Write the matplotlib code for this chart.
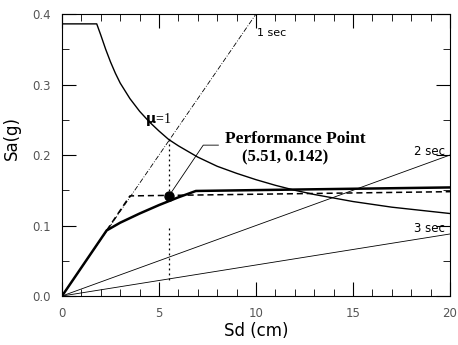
import matplotlib.pyplot as plt
from matplotlib.ticker import MultipleLocator

# demand spectrum (ADRS, 5% damping)
demand_sd = [0, 1.79, 2.0, 2.25, 2.5, 2.75, 3.0, 3.5, 4.0, 4.5, 5.0, 5.5, 6.0, 7.0, 8.0, 9.0,
             10.0, 11.0, 12.0, 13.0, 14.0, 15.0, 16.0, 17.0, 18.0, 19.0, 20.0]
demand_sa = [0.386, 0.386, 0.370, 0.350, 0.332, 0.316, 0.302, 0.280, 0.262, 0.247, 0.234, 0.222,
             0.213, 0.197, 0.184, 0.174, 0.165, 0.157, 0.150, 0.144, 0.139, 0.134, 0.130, 0.126,
             0.123, 0.120, 0.117]

# capacity spectrum
capacity_sd = [0, 2.3, 3.0, 4.0, 5.0, 6.0, 6.9, 12.0, 20.0]
capacity_sa = [0, 0.093, 0.104, 0.117, 0.129, 0.140, 0.149, 0.151, 0.154]

# reduced demand spectrum
reduced_sd = [2.3, 3.5, 20.0]
reduced_sa = [0.093, 0.142, 0.148]

# constant period lines: end point of each line
period_labels = ['1 sec', '2 sec', '3 sec']
period_end_sd = [10.0, 20.0, 20.0]
period_end_sa = [0.40, 0.20, 0.088]

perf_sd, perf_sa = 5.51, 0.142
mu1_sa = 0.222

fig = plt.figure(figsize=(4.58, 3.45), dpi=100)
ax = fig.add_axes([0.1354, 0.142, 0.8472, 0.8174])

ax.plot(demand_sd, demand_sa, color='black', lw=1.0)
ax.plot(capacity_sd, capacity_sa, color='black', lw=1.8)
ax.plot(reduced_sd, reduced_sa, color='black', lw=1.1, ls=(0, (4, 2.5)))

for i, lab in enumerate(period_labels):
    ls = (0, (6, 2, 1, 2)) if i == 0 else '-'
    ax.plot([0, period_end_sd[i]], [0, period_end_sa[i]], color='black', lw=0.6, ls=ls)

# dotted drop lines at performance point
ax.plot([perf_sd, perf_sd], [mu1_sa, perf_sa], color='black', lw=0.9, ls=(0, (1.5, 2.5)))
ax.plot([perf_sd, perf_sd], [0.096, 0.023], color='black', lw=0.9, ls=(0, (1.5, 2.5)))

ax.plot(perf_sd, perf_sa, 'o', color='black', ms=6.5)

# leader line to label
ax.plot([perf_sd + 0.1, 7.28, 8.06], [perf_sa + 0.004, 0.214, 0.214], color='black', lw=0.6)
ax.text(12.0, 0.222, 'Performance Point', ha='center', va='center',
        family='Liberation Serif', weight='bold', fontsize=12.5)
ax.text(11.5, 0.196, '(5.51, 0.142)', ha='center', va='center',
        family='Liberation Serif', weight='bold', fontsize=12)

ax.text(10.05, 0.373, '1 sec', ha='left', va='center', fontsize=8)
ax.text(19.75, 0.205, '2 sec', ha='right', va='center', fontsize=8.5)
ax.text(19.75, 0.096, '3 sec', ha='right', va='center', fontsize=8.5)
ax.text(4.3, 0.25, r'$\mathbf{\mu}$=1', ha='left', va='center', fontsize=10,
        family='Liberation Serif')

ax.set_xlim(0, 20)
ax.set_ylim(0, 0.4)
ax.xaxis.set_major_locator(MultipleLocator(5))
ax.xaxis.set_minor_locator(MultipleLocator(1))
ax.yaxis.set_minor_locator(MultipleLocator(0.05))
ax.set_yticks([0, 0.1, 0.2, 0.3, 0.4])
ax.set_yticklabels(['0.0', '0.1', '0.2', '0.3', '0.4'])
ax.tick_params(which='both', direction='in', top=True, right=True, colors='black',
               labelcolor='#555555', labelsize=8.5)
ax.tick_params(which='major', length=10, width=0.8)
ax.tick_params(which='minor', length=5, width=0.6)
ax.tick_params(axis='x', pad=8)
ax.tick_params(axis='y', pad=8)
for s in ax.spines.values():
    s.set_linewidth(0.8)

ax.set_xlabel('Sd (cm)', fontsize=12, labelpad=1)
ax.set_ylabel('Sa(g)', fontsize=12, labelpad=6)
ax.yaxis.set_label_coords(-0.105, 0.56)

fig.savefig('out.png', dpi=100)
